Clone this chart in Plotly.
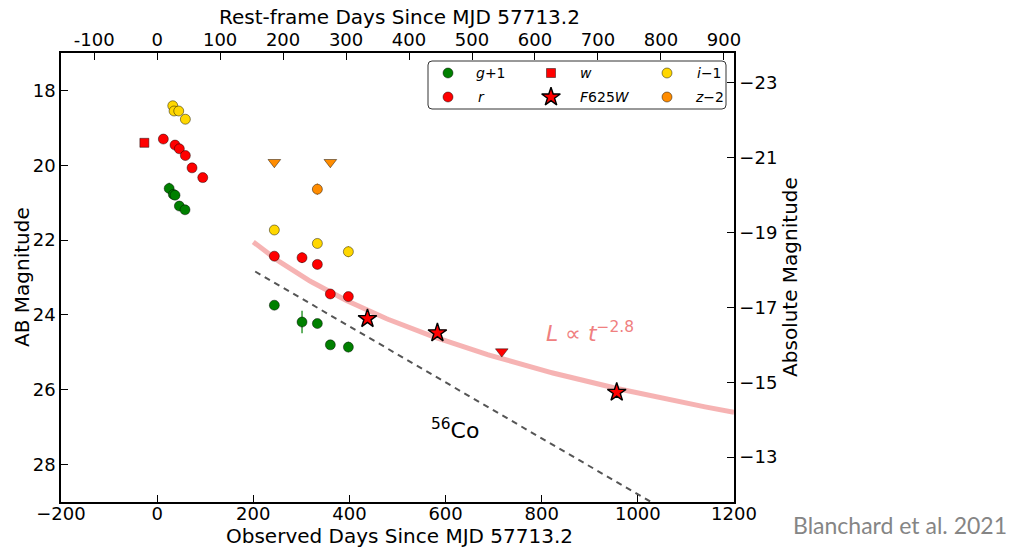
import numpy as np
import plotly.graph_objects as go

# ---- photometry (observed days since MJD 57713.2, AB mag) ----
g_days = [25.0, 33.7, 37.2, 46.2, 58.0, 243.8, 301.4, 333.3, 360.3, 397.8]
g_mag = [19.62, 19.78, 19.80, 20.09, 20.19, 22.74, 23.19, 23.23, 23.80, 23.86]
g_err = [0.15, 0.12, 0.08, 0.06, 0.06, 0.05, 0.30, 0.08, 0.06, 0.14]

r_days = [12.9, 37.2, 46.2, 58.7, 72.6, 94.9, 243.8, 301.4, 333.3, 360.3, 397.8]
r_mag = [19.30, 19.46, 19.56, 19.74, 20.07, 20.33, 22.43, 22.47, 22.65, 23.44, 23.51]
r_err = [0.04, 0.04, 0.04, 0.04, 0.04, 0.04, 0.06, 0.14, 0.08, 0.06, 0.07]
r_lim_days = [716.9]
r_lim_mag = [24.98]

i_days = [32.5, 35.2, 44.9, 58.7, 243.8, 333.3, 397.8]
i_mag = [19.41, 19.55, 19.55, 19.77, 22.73, 23.09, 23.31]
i_err = [0.05, 0.05, 0.05, 0.05, 0.05, 0.06, 0.15]

z_days = [333.3]
z_mag = [22.64]
z_err = [0.15]
z_lim_days = [243.8, 360.3]
z_lim_mag = [21.92, 21.92]

w_days = [-26.6]
w_mag = [19.40]

hst_days = [437.5, 583.0, 956.0]
hst_mag = [24.10, 24.48, 26.07]

# plotting offsets per band
offsets = {"g": 1.0, "r": 0.0, "i": -1.0, "z": -2.0}

# cosmology / model parameters
one_plus_z = 1.31
dist_mod = 40.8
pl_index = 2.8          # L ∝ t^-2.8
pl_t0 = -88.0           # reference epoch of the power law (observed days)
pl_anchor = (200.0, 22.05)
co_rate = 0.0098        # 56Co decay, mag / rest-frame day
co_anchor = (204.0, 22.84)

# axis ranges / ticks
x_range = [-200, 1200]
y_range = [29, 17]
x_ticks = [-200, 0, 200, 400, 600, 800, 1000, 1200]
y_ticks = [18, 20, 22, 24, 26, 28]
rest_ticks = [-100, 0, 100, 200, 300, 400, 500, 600, 700, 800, 900]
abs_ticks = [-23, -21, -19, -17, -15, -13]

GREEN, RED, YELLOW, ORANGE = "#008000", "#ff0000", "#ffd700", "#ff8c00"
EDGE = dict(color="rgba(0,0,0,0.75)", width=0.6)
FONT = "DejaVu Sans"

fig = go.Figure()

# power-law tail model
t_pl = np.linspace(pl_anchor[0], x_range[1], 200)
m_pl = pl_anchor[1] + 2.5 * pl_index * np.log10((t_pl - pl_t0) / (pl_anchor[0] - pl_t0))
fig.add_trace(go.Scatter(x=t_pl, y=m_pl, mode="lines",
                         line=dict(color="rgba(240,128,128,0.6)", width=5),
                         hoverinfo="skip", showlegend=False))

# 56Co decay slope
t_co = np.array([co_anchor[0], 1040.0])
m_co = co_anchor[1] + co_rate / one_plus_z * (t_co - co_anchor[0])
fig.add_trace(go.Scatter(x=t_co, y=m_co, mode="lines",
                         line=dict(color="#555555", width=2, dash="6px,5px"),
                         hoverinfo="skip", showlegend=False))


def band(days, mags, errs, off, color):
    fig.add_trace(go.Scatter(
        x=days, y=[m + off for m in mags], mode="markers",
        marker=dict(symbol="circle", size=10, color=color, line=EDGE),
        error_y=dict(type="data", array=errs, color=color, thickness=1.2, width=0),
        showlegend=False))


def limits(days, mags, off, color):
    fig.add_trace(go.Scatter(
        x=days, y=[m + off for m in mags], mode="markers",
        marker=dict(symbol="triangle-down", size=11, color=color, line=EDGE),
        showlegend=False))


limits(z_lim_days, z_lim_mag, offsets["z"], ORANGE)
limits(r_lim_days, r_lim_mag, offsets["r"], RED)
band(z_days, z_mag, z_err, offsets["z"], ORANGE)
band(i_days, i_mag, i_err, offsets["i"], YELLOW)
band(r_days, r_mag, r_err, offsets["r"], RED)
band(g_days, g_mag, g_err, offsets["g"], GREEN)

STAR = dict(symbol="star", size=14, color=RED, line=dict(color="black", width=1.4))

fig.add_trace(go.Scatter(x=w_days, y=w_mag, mode="markers",
                         marker=dict(symbol="square", size=9, color=RED, line=EDGE),
                         showlegend=False))
fig.add_trace(go.Scatter(x=hst_days, y=hst_mag, mode="markers", marker=STAR,
                         showlegend=False))

# companion axes: rest-frame days (top) and absolute magnitude (right)
fig.add_trace(go.Scatter(x=[None], y=[None], xaxis="x2", yaxis="y2",
                         hoverinfo="skip", showlegend=False))

# legend drawn on a pixel-unit overlay axis
leg_items = [
    (dict(symbol="circle", size=10, color=GREEN, line=EDGE), 448, 73, "<i>g</i>+1", 474),
    (dict(symbol="circle", size=10, color=RED, line=EDGE), 448, 97, "<i>r</i>", 476),
    (dict(symbol="square", size=9, color=RED, line=EDGE), 551, 73, "<i>w</i>", 578),
    (STAR, 551, 97, "<i>F</i>625<i>W</i>", 578),
    (dict(symbol="circle", size=10, color=YELLOW, line=EDGE), 667, 73, "<i>i</i>−1", 695),
    (dict(symbol="circle", size=10, color=ORANGE, line=EDGE), 667, 97, "<i>z</i>−2", 693),
]
for mk, px, py, label, tx in leg_items:
    fig.add_trace(go.Scatter(x=[px], y=[py], xaxis="x3", yaxis="y3", mode="markers",
                             marker=mk, hoverinfo="skip", showlegend=False))
    fig.add_annotation(x=tx, y=py, xref="x3", yref="y3", text=label, showarrow=False,
                       xanchor="left", yanchor="middle",
                       font=dict(family=FONT, size=14, color="black"))

fig.add_shape(type="path", xref="x3", yref="y3", layer="below",
              path="M 432,61 L 722,61 Q 726,61 726,65 L 726,105 Q 726,109 722,109 "
                   "L 432,109 Q 428,109 428,105 L 428,65 Q 428,61 432,61 Z",
              line=dict(color="#333333", width=1), fillcolor="white")

# model labels
fig.add_annotation(x=900, y=24.45, text="<i>L</i> ∝ <i>t</i><sup>−2.8</sup>",
                   showarrow=False, font=dict(family=FONT, size=22, color="#f08080"))
fig.add_annotation(x=620, y=27.05, text="<sup>56</sup>Co", showarrow=False,
                   font=dict(family=FONT, size=22, color="black"))

TITLE_FONT = dict(family=FONT, size=20, color="black")

# axis titles
fig.add_annotation(x=0.503, y=-0.076, xref="paper", yref="paper",
                   text="Observed Days Since MJD 57713.2", showarrow=False,
                   xanchor="center", yanchor="middle", font=TITLE_FONT)
fig.add_annotation(x=0.503, y=1.080, xref="paper", yref="paper",
                   text="Rest-frame Days Since MJD 57713.2", showarrow=False,
                   xanchor="center", yanchor="middle", font=TITLE_FONT)
fig.add_annotation(x=-0.058, y=0.501, xref="paper", yref="paper", textangle=-90,
                   text="AB Magnitude", showarrow=False,
                   xanchor="center", yanchor="middle", font=TITLE_FONT)
fig.add_annotation(x=1.083, y=0.501, xref="paper", yref="paper", textangle=-90,
                   text="Absolute Magnitude", showarrow=False,
                   xanchor="center", yanchor="middle", font=TITLE_FONT)

fig.add_annotation(x=1.247, y=-0.052, xref="paper", yref="paper",
                   text="Blanchard et al. 2021", showarrow=False,
                   xanchor="center", yanchor="middle",
                   font=dict(family="Lato", size=23, color="#858585"))

axis_common = dict(showline=True, linecolor="black", linewidth=1.5, ticks="inside",
                   ticklen=7, tickwidth=1, tickcolor="black", showgrid=False,
                   zeroline=False, automargin=False,
                   tickfont=dict(family=FONT, size=18, color="black"))

fig.update_layout(
    width=1014, height=547,
    margin=dict(l=61, r=280, t=53, b=45),
    paper_bgcolor="white", plot_bgcolor="white",
    showlegend=False,
    xaxis=dict(range=x_range, tickvals=x_ticks, ticklabelstandoff=-5, **axis_common),
    yaxis=dict(range=y_range, tickvals=y_ticks, **axis_common),
    xaxis2=dict(overlaying="x", side="top", anchor="y",
                range=[x_range[0] / one_plus_z, x_range[1] / one_plus_z],
                tickvals=rest_ticks, ticktext=[str(v) for v in rest_ticks],
                ticklabelstandoff=-2, **axis_common),
    yaxis2=dict(overlaying="y", side="right", anchor="x",
                range=[y_range[0] - dist_mod, y_range[1] - dist_mod],
                tickvals=abs_ticks, **axis_common),
    xaxis3=dict(overlaying="x", range=[61, 734], visible=False, fixedrange=True),
    yaxis3=dict(overlaying="y", range=[502, 53], visible=False, fixedrange=True),
)

fig.write_html("out.html")
